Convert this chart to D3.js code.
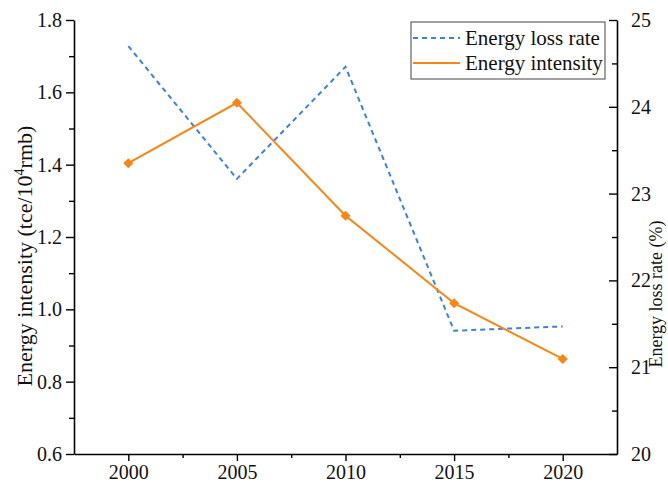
<!DOCTYPE html>
<html>
<head>
<meta charset="utf-8">
<script src="https://cdn.jsdelivr.net/npm/d3@7"></script>
<style>
  body { margin: 0; background: #fff; }
  svg text, svg tspan { font-family: "Liberation Serif", "Times New Roman", Tinos, "DejaVu Serif", serif; fill: #111; }
</style>
</head>
<body>
<script>
// Data
var years = [2000, 2005, 2010, 2015, 2020];
var intensity = [1.404, 1.571, 1.259, 1.017, 0.863];   // left axis
var lossRate = [24.70, 23.17, 24.46, 21.42, 21.47];    // right axis
var xTicks = [2000, 2005, 2010, 2015, 2020];
var xMinor = [2002.5, 2007.5, 2012.5, 2017.5];
var leftTicks = [0.6, 0.8, 1.0, 1.2, 1.4, 1.6, 1.8];
var leftMinor = [0.7, 0.9, 1.1, 1.3, 1.5, 1.7];
var rightTicks = [20, 21, 22, 23, 24, 25];
var rightMinor = [20.5, 21.5, 22.5, 23.5, 24.5];

var FONT = "'Liberation Serif', 'Times New Roman', Tinos, 'DejaVu Serif', serif";

var W = 668, H = 484;
var margin = {top: 20, right: 51, bottom: 30, left: 74},
    width = W - margin.left - margin.right,
    height = H - margin.top - margin.bottom;

var blue = "#3d7fe6", orange = "#fb8512";

var svg = d3.select("body").append("svg")
    .attr("width", W)
    .attr("height", H)
    .attr("font-family", FONT);

var g = svg.append("g")
    .attr("transform", "translate(" + margin.left + "," + margin.top + ")");

var x = d3.scaleLinear().domain([1997.5, 2022.5]).range([0, width]);
var yL = d3.scaleLinear().domain([0.6, 1.8]).range([height, 0]);
var yR = d3.scaleLinear().domain([20, 25]).range([height, 0]);

function styleAxis(sel) {
  sel.attr("font-family", FONT).attr("font-size", 20);
  sel.selectAll("path").attr("stroke", "#000").attr("stroke-width", 1.6);
  sel.selectAll("line").attr("stroke", "#000").attr("stroke-width", 1.4);
  sel.selectAll("text").attr("fill", "#111").attr("font-family", FONT);
}

// minor ticks
g.append("g").attr("transform", "translate(0," + height + ")")
  .call(d3.axisBottom(x).tickValues(xMinor).tickSize(4).tickFormat(""))
  .call(styleAxis).select("path").remove();
g.append("g")
  .call(d3.axisLeft(yL).tickValues(leftMinor).tickSize(5).tickFormat(""))
  .call(styleAxis).select("path").remove();
g.append("g").attr("transform", "translate(" + width + ",0)")
  .call(d3.axisRight(yR).tickValues(rightMinor).tickSize(-5).tickFormat(""))
  .call(styleAxis).select("path").remove();

// major axes
g.append("g").attr("transform", "translate(0," + height + ")")
  .call(d3.axisBottom(x).tickValues(xTicks).tickSize(7).tickPadding(4).tickSizeOuter(0).tickFormat(d3.format("d")))
  .call(styleAxis);
g.append("g")
  .call(d3.axisLeft(yL).tickValues(leftTicks).tickSize(8).tickPadding(4).tickSizeOuter(0).tickFormat(d3.format(".1f")))
  .call(styleAxis);
g.append("g").attr("transform", "translate(" + width + ",0)")
  .call(d3.axisRight(yR).tickValues(rightTicks).tickSize(-8).tickPadding(14).tickSizeOuter(0).tickFormat(d3.format("d")))
  .call(styleAxis);

// lines
var lossData = years.map(function(d, i) { return {x: d, y: lossRate[i]}; });
var intData = years.map(function(d, i) { return {x: d, y: intensity[i]}; });

g.append("path")
  .datum(lossData)
  .attr("fill", "none")
  .attr("stroke", blue)
  .attr("stroke-width", 2)
  .attr("stroke-dasharray", "5,4")
  .attr("d", d3.line().x(function(d) { return x(d.x); }).y(function(d) { return yR(d.y); }));

g.append("path")
  .datum(intData)
  .attr("fill", "none")
  .attr("stroke", orange)
  .attr("stroke-width", 2)
  .attr("d", d3.line().x(function(d) { return x(d.x); }).y(function(d) { return yL(d.y); }));

g.selectAll(".mark")
  .data(intData)
  .enter().append("path")
    .attr("class", "mark")
    .attr("fill", orange)
    .attr("d", d3.symbol().type(d3.symbolSquare).size(50))
    .attr("transform", function(d) {
      return "translate(" + x(d.x) + "," + yL(d.y) + ") rotate(45)";
    });

// axis titles
var lt = svg.append("text")
  .attr("transform", "translate(24,256) rotate(-90)")
  .attr("text-anchor", "middle")
  .attr("dy", "0.35em")
  .attr("font-size", 22);
lt.append("tspan").text("Energy intensity (tce/10");
lt.append("tspan").attr("dy", -8).attr("font-size", 14).text("4");
lt.append("tspan").attr("dy", 8).text("rmb)");

svg.append("text")
  .attr("transform", "translate(657,294) rotate(-90)")
  .attr("text-anchor", "middle")
  .attr("dy", "0.3em")
  .attr("font-size", 18)
  .text("Energy loss rate (%)");

// legend
var legend = svg.append("g");
legend.append("rect")
  .attr("x", 411).attr("y", 22).attr("width", 194).attr("height", 57)
  .attr("fill", "#fff").attr("stroke", "#444").attr("stroke-width", 1);
var items = [
  {label: "Energy loss rate", color: blue, dash: "5,4"},
  {label: "Energy intensity", color: orange, dash: null}
];
items.forEach(function(it, i) {
  var yy = 38 + i * 25;
  legend.append("line")
    .attr("x1", 413).attr("x2", 460).attr("y1", yy).attr("y2", yy)
    .attr("stroke", it.color).attr("stroke-width", 2)
    .attr("stroke-dasharray", it.dash);
  legend.append("text")
    .attr("x", 465).attr("y", yy).attr("dy", "0.35em")
    .attr("font-size", 21)
    .text(it.label);
});
</script>
</body>
</html>
